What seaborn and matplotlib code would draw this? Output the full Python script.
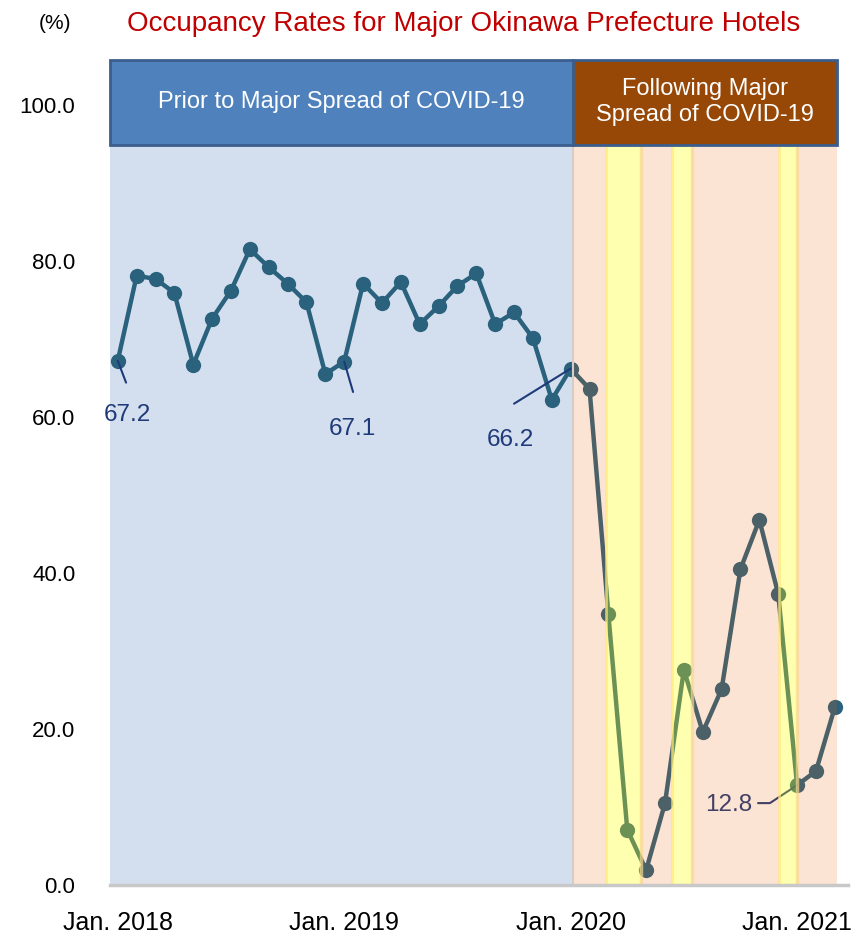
import matplotlib
matplotlib.use("Agg")
import matplotlib.pyplot as plt
import pandas as pd
import seaborn as sns
from matplotlib.patches import Rectangle

# monthly occupancy (%), Jan. 2018 - Mar. 2021
rates_2018 = [67.2, 78.1, 77.7, 75.9, 66.7, 72.6, 76.2, 81.5, 79.2, 77.1, 74.7, 65.5]
rates_2019 = [67.1, 77.1, 74.6, 77.3, 71.9, 74.2, 76.8, 78.4, 71.9, 73.4, 70.1, 62.2]
rates_2020 = [66.2, 63.6, 34.7, 7.1, 1.9, 10.5, 27.6, 19.6, 25.1, 40.5, 46.8, 37.3]
rates_2021 = [12.8, 14.6, 22.8]

tick_months = [0, 12, 24, 36]
tick_labels = ["Jan. 2018", "Jan. 2019", "Jan. 2020", "Jan. 2021"]
labeled_months = [0, 12, 24, 36]

# shaded periods, in month index
covid_start = 24.11
covid_end = 38.10
yellow_bands = [(25.86, 27.73), (29.36, 30.42), (35.06, 36.01)]

rates = rates_2018 + rates_2019 + rates_2020 + rates_2021
df = pd.DataFrame({"month": range(len(rates)), "rate": rates})

sns.set_theme(style="white")
plt.rcParams["font.family"] = ["Liberation Sans Narrow", "Liberation Sans", "DejaVu Sans"]

fig = plt.figure(figsize=(8.65, 9.41), dpi=100)
ax = fig.add_axes([0.1272, 0.0595, 0.8532, 0.8804])

x_min, x_max = -0.41, 38.70
y_top = 106.2
band_top = 94.9
head_top = 105.8
ax.set_xlim(x_min, x_max)
ax.set_ylim(0, y_top)

# backgrounds
ax.axvspan(x_min, covid_start, ymax=band_top / y_top, color="#D3DFEE", lw=0, zorder=0)

sns.lineplot(data=df, x="month", y="rate", color="#2A617C", linewidth=3.2,
             marker="o", markersize=11, markeredgewidth=0, ax=ax, zorder=2)

# overlays on top of the line (semi transparent, like the original)
edges = [covid_start]
for a, b in yellow_bands:
    edges += [a, b]
edges.append(covid_end)
for a, b in zip(edges[::2], edges[1::2]):
    ax.axvspan(a, b, ymax=band_top / y_top, color="#F36000", alpha=0.17, lw=0, zorder=3)
for a, b in yellow_bands:
    ax.axvspan(a, b, ymax=band_top / y_top, color="#FFFF00", alpha=0.31, lw=0, zorder=3)
    ax.plot([a, a], [0, band_top], color="#FFE680", lw=2, alpha=0.7, zorder=3)
    ax.plot([b, b], [0, band_top], color="#F8D890", lw=2.5, alpha=0.7, zorder=3)
ax.plot([covid_start, covid_start], [0, band_top], color="#D8CCC8", lw=1.5, zorder=3)

# header boxes
ax.add_patch(Rectangle((x_min, band_top), covid_start - x_min, head_top - band_top,
                       facecolor="#4F81BD", edgecolor="#3B5E8C", lw=2, zorder=4, clip_on=False))
ax.add_patch(Rectangle((covid_start, band_top), covid_end - covid_start, head_top - band_top,
                       facecolor="#974706", edgecolor="#3B5E8C", lw=2, zorder=4, clip_on=False))
ax.text((x_min + covid_start) / 2, (band_top + head_top) / 2, "Prior to Major Spread of COVID-19",
        ha="center", va="center", color="white", fontsize=17, zorder=5)
ax.text((covid_start + covid_end) / 2, (band_top + head_top) / 2, "Following Major\nSpread of COVID-19",
        ha="center", va="center", color="white", fontsize=17, linespacing=1.25, zorder=5)

# value labels with leader lines
navy = "#1F3A7A"
label_style = [
    # text dx, text dy, leader end dx, leader end dy
    (0.5, -7.0, 0.44, -2.8),
    (0.42, -8.6, 0.47, -3.9),
    (-3.2, -9.2, -3.0, -4.5),
]
for m, (tdx, tdy, ldx, ldy) in zip(labeled_months[:3], label_style):
    v = rates[m]
    ax.plot([m, m + ldx], [v, v + ldy], color=navy, lw=1.5, zorder=2.5)
    ax.text(m + tdx, v + tdy, f"{v:.1f}", ha="center", va="center",
            color=navy, fontsize=17.5, zorder=2.5)
m = labeled_months[3]
v = rates[m]
ax.plot([m - 2.07, m - 1.44, m], [v - 2.3, v - 2.3, v], color=navy, lw=1.5, zorder=2.5)
ax.text(m - 3.6, v - 2.5, f"{v:.1f}", ha="center", va="center",
        color=navy, fontsize=17.5, zorder=2.5)

# axes styling
for side in ["top", "right", "left"]:
    ax.spines[side].set_visible(False)
ax.spines["bottom"].set_color("#C8C8C8")
ax.spines["bottom"].set_linewidth(2.5)
ax.spines["bottom"].set_zorder(6)

ax.set_yticks([0, 20, 40, 60, 80, 100])
ax.set_yticklabels([f"{t:.1f}" for t in [0, 20, 40, 60, 80, 100]])
ax.set_xticks(tick_months)
ax.set_xticklabels(tick_labels)
ax.tick_params(axis="y", length=0, pad=25, labelsize=16, labelcolor="black")
ax.tick_params(axis="x", length=0, pad=19, labelsize=18, labelcolor="black")
ax.set_xlabel("")
ax.set_ylabel("")
ax.grid(False)
ax.set_facecolor("white")

fig.text(0.064, 0.975, "(%)", ha="center", va="center", fontsize=15, color="black")
fig.text(0.536, 0.975, "Occupancy Rates for Major Okinawa Prefecture Hotels",
         ha="center", va="center", fontsize=20, color="#C00000")

fig.savefig("out.png", dpi=100)
